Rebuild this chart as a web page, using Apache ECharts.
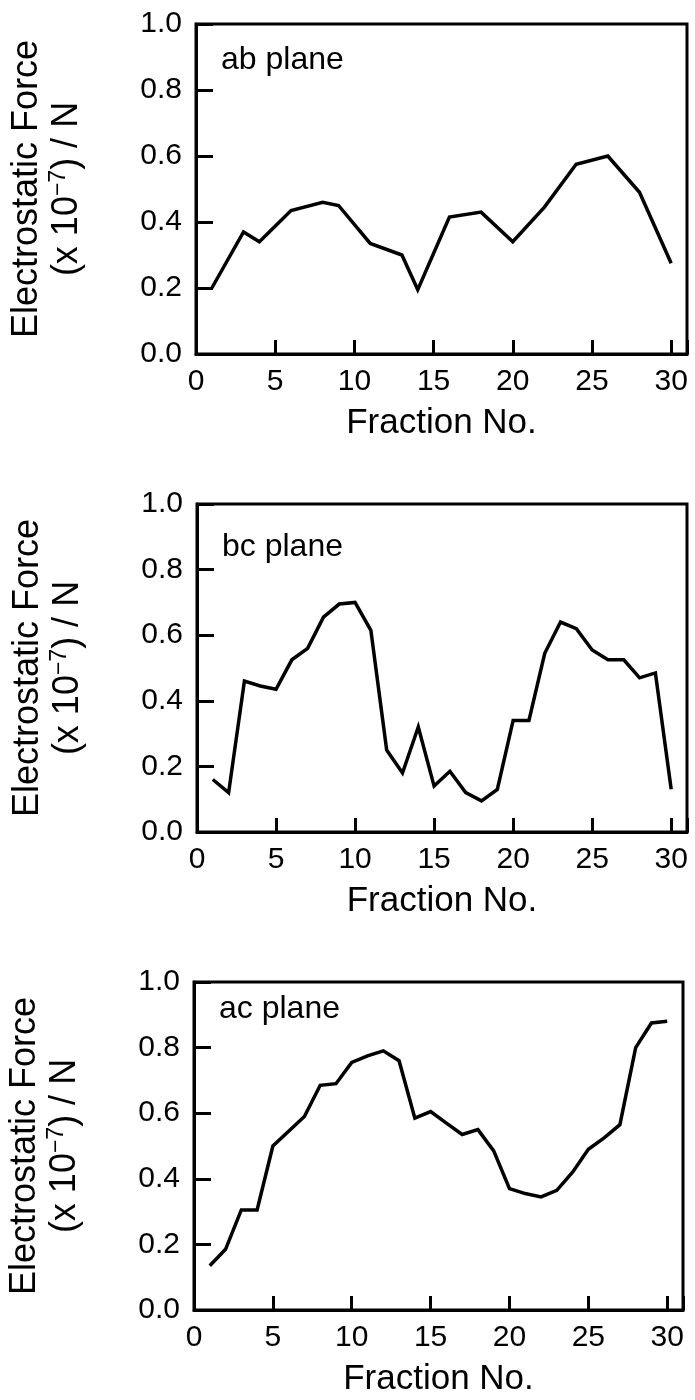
<!DOCTYPE html>
<html>
<head>
<meta charset="utf-8">
<script src="https://cdn.jsdelivr.net/npm/echarts@6/dist/echarts.min.js"></script>
<style>
  html, body { margin: 0; padding: 0; background: #fff; }
  #chart { width: 695px; height: 1400px; }
</style>
</head>
<body>
<div id="chart"></div>
<script>
// fraction number vs electrostatic force (x 10^-7 N)
const abFraction = [1, 3, 4, 6, 8, 9, 11, 13, 14, 16, 18, 20, 22, 24, 26, 28, 30];
const abForce = [0.20, 0.37, 0.34, 0.435, 0.46, 0.45, 0.335, 0.30, 0.195, 0.415, 0.43, 0.34, 0.445, 0.575, 0.60, 0.49, 0.275];

const bcFraction = [1, 2, 3, 4, 5, 6, 7, 8, 9, 10, 11, 12, 13, 14, 15, 16, 17, 18, 19, 20, 21, 22, 23, 24, 25, 26, 27, 28, 29, 30];
const bcForce = [0.16, 0.12, 0.46, 0.445, 0.435, 0.525, 0.56, 0.655, 0.695, 0.70, 0.615, 0.25, 0.18, 0.32, 0.14, 0.185, 0.12, 0.095, 0.13, 0.34, 0.34, 0.545, 0.64, 0.62, 0.555, 0.525, 0.525, 0.47, 0.485, 0.13];

const acFraction = [1, 2, 3, 4, 5, 6, 7, 8, 9, 10, 11, 12, 13, 14, 15, 16, 17, 18, 19, 20, 21, 22, 23, 24, 25, 26, 27, 28, 29, 30];
const acForce = [0.135, 0.185, 0.305, 0.305, 0.50, 0.545, 0.59, 0.685, 0.69, 0.755, 0.775, 0.79, 0.76, 0.585, 0.605, 0.57, 0.535, 0.55, 0.485, 0.37, 0.355, 0.345, 0.365, 0.42, 0.49, 0.525, 0.565, 0.80, 0.875, 0.88];

const planeNames = ['ab plane', 'bc plane', 'ac plane'];
const xTicks = [0, 5, 10, 15, 20, 25, 30];
const yTicks = [0.0, 0.2, 0.4, 0.6, 0.8, 1.0];

const FONT = '"Liberation Sans", Arial, Helvetica, sans-serif';

var chart = echarts.init(document.getElementById('chart'), null, { renderer: 'canvas' });

// plot boxes, one per panel
const grids = [
  { left: 196, top: 24, width: 491, height: 330 },
  { left: 197, top: 504, width: 490, height: 328 },
  { left: 194, top: 982, width: 489, height: 328 }
];
const labelTops = [44, 531, 993];

function toPairs(xs, ys) {
  return xs.map(function (x, i) { return [x, ys[i]]; });
}
const panels = [
  toPairs(abFraction, abForce),
  toPairs(bcFraction, bcForce),
  toPairs(acFraction, acForce)
];

var option = {
  backgroundColor: '#fff',
  animation: false,
  textStyle: { fontFamily: FONT, color: '#000' },
  title: [],
  grid: [],
  xAxis: [],
  yAxis: [],
  series: []
};

panels.forEach(function (data, i) {
  option.title.push({
    text: planeNames[i],
    left: grids[i].left + 25,
    top: labelTops[i],
    padding: 0,
    textStyle: { fontFamily: FONT, fontSize: 32, fontWeight: 'normal', color: '#000' }
  });
  option.grid.push(Object.assign({
    show: true,
    borderColor: '#000',
    borderWidth: 3,
    backgroundColor: 'transparent',
    containLabel: false,
    outerBoundsMode: 'none'
  }, grids[i]));
  option.xAxis.push({
    type: 'value',
    gridIndex: i,
    min: 0,
    max: 31,
    interval: 5,
    name: 'Fraction No.',
    nameLocation: 'middle',
    nameGap: 52,
    nameTextStyle: { fontFamily: FONT, fontSize: 35, color: '#000' },
    axisLine: { show: true, lineStyle: { color: '#000', width: 3 } },
    axisTick: { show: true, inside: true, length: 14, lineStyle: { color: '#000', width: 3 } },
    axisLabel: {
      fontFamily: FONT, fontSize: 30, color: '#000', margin: 13,
      formatter: function (v) { return xTicks.indexOf(v) >= 0 ? String(v) : ''; }
    },
    splitLine: { show: false }
  });
  option.yAxis.push({
    type: 'value',
    gridIndex: i,
    min: 0,
    max: 1,
    interval: 0.2,
    name: '{t|Electrostatic Force}\n{t|(x 10}{s|\u22127}{t|) / N}',
    nameLocation: 'middle',
    nameRotate: 90,
    nameGap: 109,
    nameTextStyle: {
      rich: {
        t: { fontFamily: FONT, fontSize: 36, color: '#000', lineHeight: 40 },
        s: { fontFamily: FONT, fontSize: 23, color: '#000', lineHeight: 30, verticalAlign: 'top' }
      }
    },
    axisLine: { show: true, lineStyle: { color: '#000', width: 3 } },
    axisTick: { show: true, inside: true, length: 17, lineStyle: { color: '#000', width: 3 } },
    axisLabel: {
      fontFamily: FONT, fontSize: 30, color: '#000', margin: 14,
      formatter: function (v) { return yTicks.some(function (t) { return Math.abs(t - v) < 1e-6; }) ? v.toFixed(1) : ''; }
    },
    splitLine: { show: false }
  });
  option.series.push({
    type: 'line',
    xAxisIndex: i,
    yAxisIndex: i,
    data: data,
    symbol: 'none',
    lineStyle: { color: '#000', width: 3.5, join: 'miter' },
    itemStyle: { color: '#000' }
  });
});

chart.setOption(option);
</script>
</body>
</html>
